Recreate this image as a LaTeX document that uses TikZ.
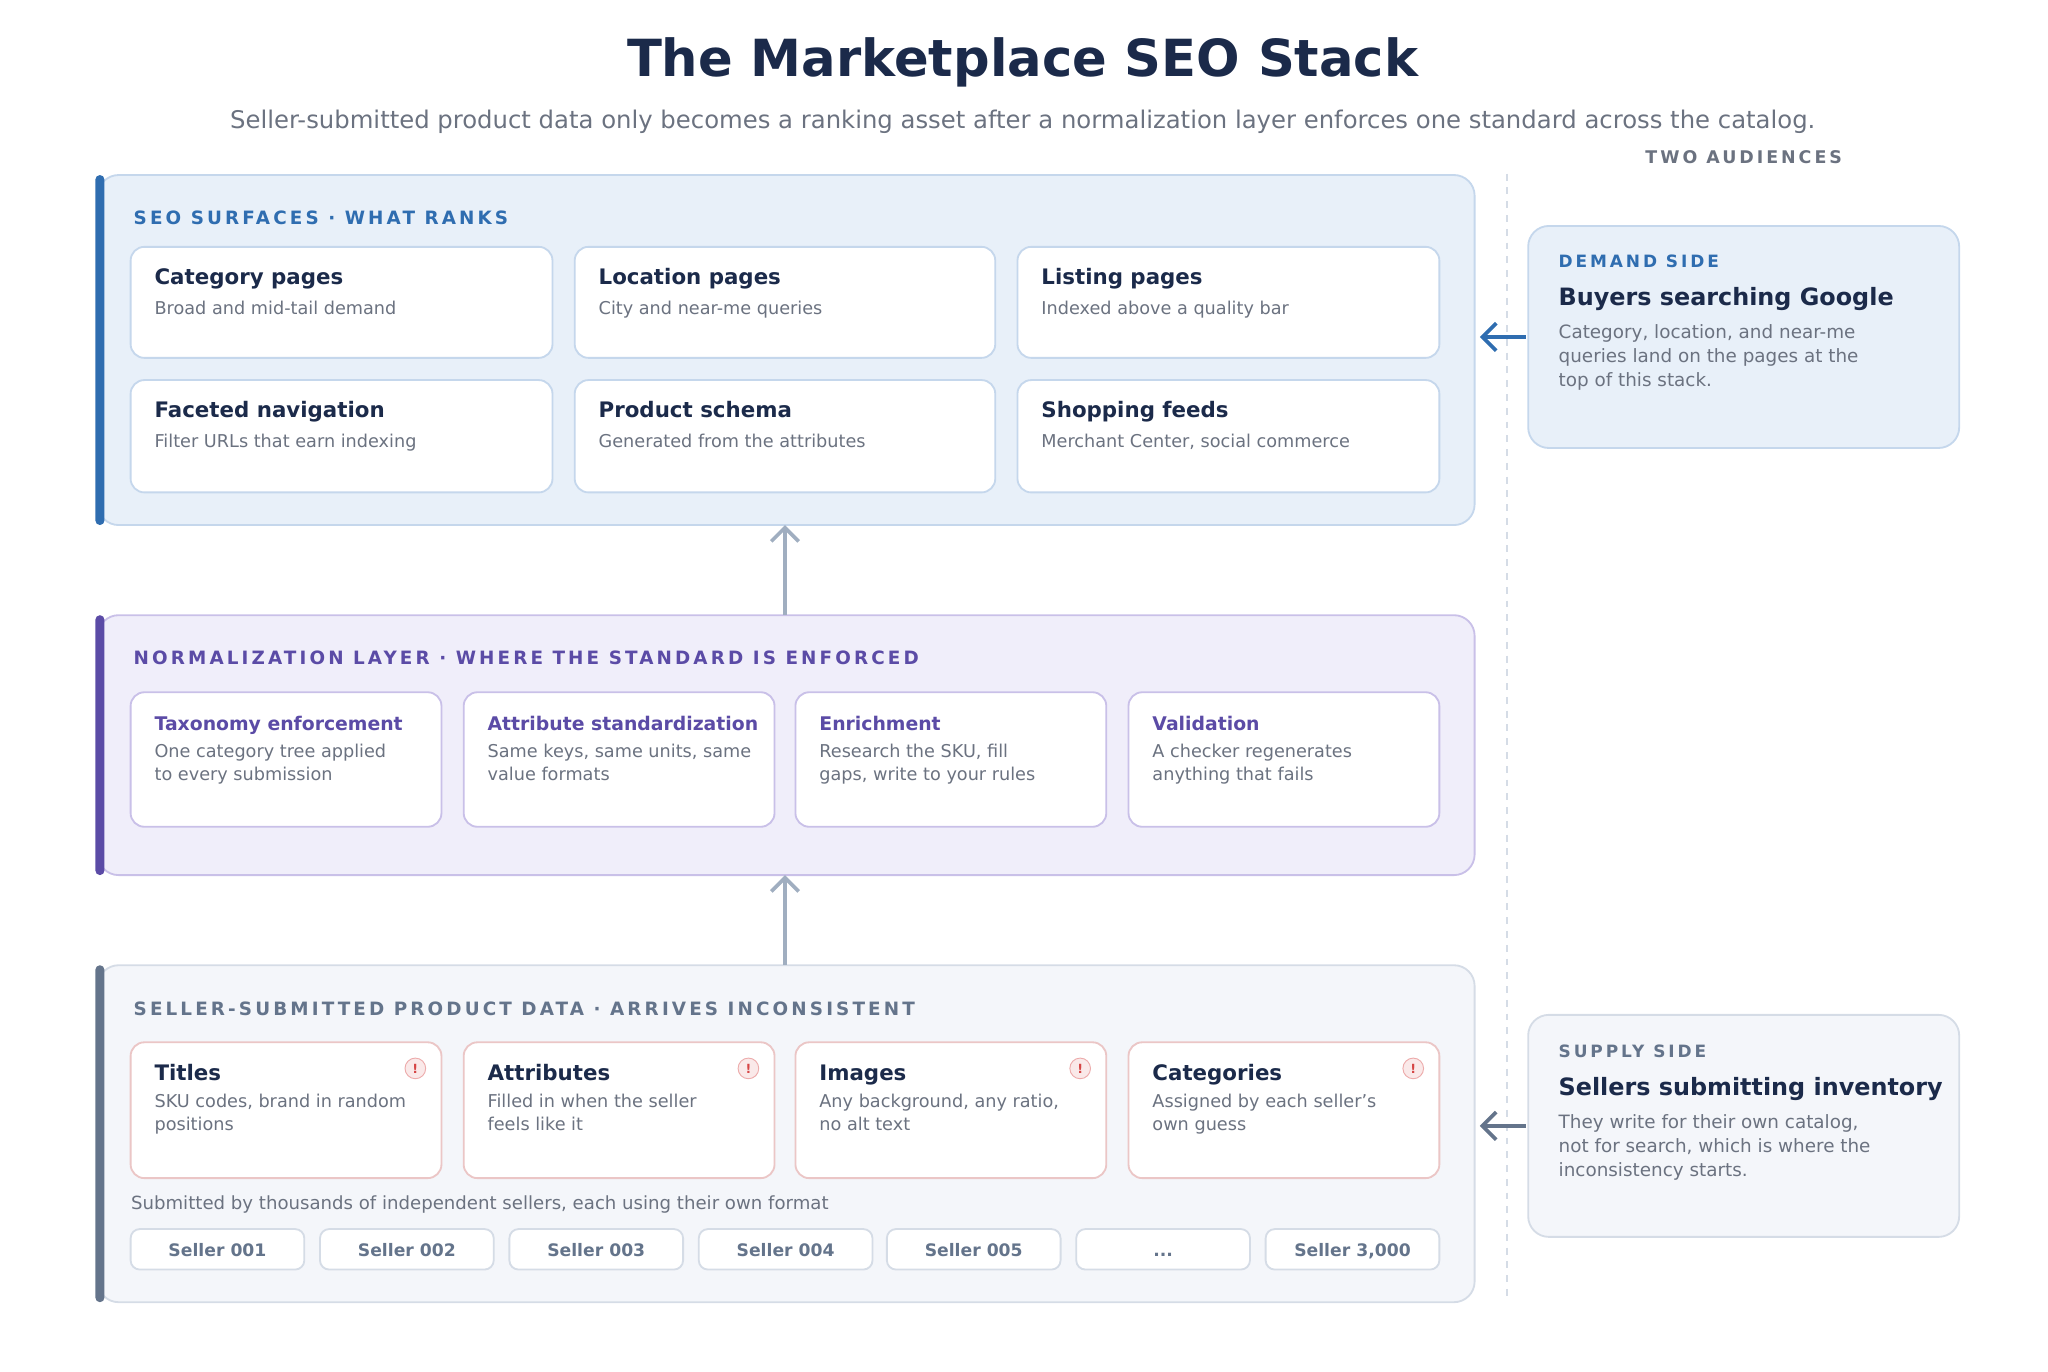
\documentclass[tikz,border=0pt]{standalone}
\usepackage{fontspec}
\setmainfont{DejaVu Sans}
\usetikzlibrary{arrows.meta}
\definecolor{navy}{HTML}{1B2A4A}
\definecolor{txtgray}{HTML}{6B7280}
\definecolor{seoblue}{HTML}{2F6DB0}
\definecolor{seofill}{HTML}{E8F0F9}
\definecolor{seoline}{HTML}{C5D7EC}
\definecolor{normpurple}{HTML}{5B4BA6}
\definecolor{normfill}{HTML}{F0EEFA}
\definecolor{normline}{HTML}{C9C0E8}
\definecolor{dataslate}{HTML}{64748B}
\definecolor{datafill}{HTML}{F4F6FA}
\definecolor{dataline}{HTML}{D5DCE6}
\definecolor{warnline}{HTML}{EBC6C6}
\definecolor{warnred}{HTML}{D64545}
\definecolor{arrowgray}{HTML}{A0AEC0}
\newcommand\fsz[1]{\fontsize{#1}{#1}\selectfont}
\newcommand\spaced{\addfontfeature{LetterSpace=17}}
\newcommand\sellerdots{...}
\tikzset{
  panel/.style={rounded corners=9pt, line width=0.8pt},
  card/.style={rounded corners=6pt, line width=0.8pt, fill=white},
  lbl/.style={anchor=west, inner sep=0pt, font=\fsz{8}\bfseries\spaced},
  ctitle/.style={anchor=base west, inner sep=0pt, text=navy, font=\fsz{9.3}\bfseries},
  cdesc/.style={anchor=north west, inner sep=0pt, text=txtgray, align=left, font=\fsz{7.7}\linespread{1.3}\selectfont},
  uparrow/.style={arrowgray, line width=1.6pt, -{Straight Barb[length=6pt,width=12pt]}},
  warn/.style={circle, minimum size=9pt, inner sep=0pt, fill=warnred!12, draw=warnred!45, text=warnred, font=\fsz{5.5}\bfseries},
  seller/.style={rounded corners=4pt, draw=dataline, fill=white, line width=0.8pt},
}
\begin{document}
\begin{tikzpicture}[x=0.02cm, y=-0.02cm]
  \useasboundingbox (0,0) rectangle (1568,1050);
  % title
  \node[text=navy, font=\fsz{22.3}\bfseries] (title) at (783,48) {The Marketplace SEO Stack};
  \node[text=txtgray, font=\fsz{10.6}] (subtitle) at (783,93) {Seller-submitted product data only becomes a ranking asset after a normalization layer enforces one standard across the catalog.};
  \node[text=txtgray, font=\fsz{7.6}\bfseries\spaced] (audiences) at (1335,120) {TWO AUDIENCES};
  \draw[dataline, dashed, line width=0.8pt] (1154,133) -- (1154,997);

  % SEO surfaces
  \draw[panel, fill=seofill, draw=seoline] (75,134) rectangle (1129,402);
  \fill[seoblue, rounded corners=2pt] (73,134) rectangle (80,402);
  \node[lbl, text=seoblue] at (102,167) {SEO SURFACES · WHAT RANKS};
  \foreach \xa/\xb/\ya/\yb/\ttl/\dsc [count=\i] in {
      100/423/189/274/Category pages/Broad and mid-tail demand,
      440/762/189/274/Location pages/City and near-me queries,
      779/1102/189/274/Listing pages/Indexed above a quality bar,
      100/423/291/377/Faceted navigation/Filter URLs that earn indexing,
      440/762/291/377/Product schema/Generated from the attributes,
      779/1102/291/377/Shopping feeds/{Merchant Center, social commerce}} {
    \draw[card, draw=seoline] (\xa,\ya) rectangle (\xb,\yb);
    \node[ctitle] (seo\i) at (\xa+18,\ya+29) {\ttl};
    \node[cdesc] at (\xa+18,\ya+41) {\dsc};
  }
  \coordinate (seobottom) at (601,402);

  % normalization
  \draw[panel, fill=normfill, draw=normline] (75,471) rectangle (1129,670);
  \fill[normpurple, rounded corners=2pt] (73,471) rectangle (80,670);
  \node[lbl, text=normpurple] at (102,504) {NORMALIZATION LAYER · WHERE THE STANDARD IS ENFORCED};
  \foreach \xa/\ttl/\dsc [count=\i] in {
      100/Taxonomy enforcement/{One category tree applied\\to every submission},
      355/Attribute standardization/{Same keys, same units, same\\value formats},
      609/Enrichment/{Research the SKU, fill\\gaps, write to your rules},
      864/Validation/{A checker regenerates\\anything that fails}} {
    \draw[card, draw=normline] (\xa,530) rectangle (\xa+238,633);
    \node[ctitle, text=normpurple, font=\fsz{8.2}\bfseries] (norm\i) at (\xa+18,559) {\ttl};
    \node[cdesc] at (\xa+18,569) {\dsc};
  }
  \coordinate (normtop) at (601,471);
  \coordinate (normbottom) at (601,670);

  % seller data
  \draw[panel, fill=datafill, draw=dataline] (75,739) rectangle (1129,997);
  \fill[dataslate, rounded corners=2pt] (73,739) rectangle (80,997);
  \node[lbl, text=dataslate] at (102,772) {SELLER-SUBMITTED PRODUCT DATA · ARRIVES INCONSISTENT};
  \foreach \xa/\ttl/\dsc [count=\i] in {
      100/Titles/{SKU codes, brand in random\\positions},
      355/Attributes/{Filled in when the seller\\feels like it},
      609/Images/{Any background, any ratio,\\no alt text},
      864/Categories/{Assigned by each seller's\\own guess}} {
    \draw[card, draw=warnline] (\xa,798) rectangle (\xa+238,902);
    \node[ctitle] (data\i) at (\xa+18,827) {\ttl};
    \node[cdesc] at (\xa+18,837) {\dsc};
    \node[warn] at (\xa+218,818) {!};
  }
  \coordinate (datatop) at (601,739);
  \node[anchor=west, inner sep=0pt, text=txtgray, font=\fsz{7.9}] (thousands) at (100,922) {Submitted by thousands of independent sellers, each using their own format};
  \foreach \xa/\nm [count=\i] in {100/Seller 001, 245/Seller 002, 390/Seller 003, 535/Seller 004, 679/Seller 005, 824/\sellerdots, 969/{Seller 3,000}} {
    \draw[seller] (\xa,941) rectangle (\xa+133,972);
    \node[anchor=base, text=dataslate, font=\fsz{7.5}\bfseries] (s\i) at (\xa+66.5,962) {\nm};
  }

  % audiences
  \draw[panel, fill=seofill, draw=seoline] (1170,173) rectangle (1500,343);
  \node[lbl, text=seoblue, font=\fsz{7.4}\bfseries\spaced] at (1193,200) {DEMAND SIDE};
  \node[ctitle, font=\fsz{10.4}\bfseries] (demand) at (1193,234) {Buyers searching Google};
  \node[cdesc, font=\fsz{8}\linespread{1.3}\selectfont] at (1193,248) {Category, location, and near-me\\queries land on the pages at the\\top of this stack.};
  \coordinate (demandin) at (1168,258);
  \coordinate (seoright) at (1133,258);

  \draw[panel, fill=datafill, draw=dataline] (1170,777) rectangle (1500,947);
  \node[lbl, text=dataslate, font=\fsz{7.4}\bfseries\spaced] at (1193,805) {SUPPLY SIDE};
  \node[ctitle, font=\fsz{10.4}\bfseries] (supply) at (1193,839) {Sellers submitting inventory};
  \node[cdesc, font=\fsz{8}\linespread{1.3}\selectfont] at (1193,853) {They write for their own catalog,\\not for search, which is where the\\inconsistency starts.};
  \coordinate (supplyin) at (1168,862);
  \coordinate (dataright) at (1133,862);

  % connectors
  \draw[uparrow] (normtop) -- (seobottom);
  \draw[uparrow] (datatop) -- (normbottom);
  \draw[uparrow, seoblue] (demandin) -- (seoright);
  \draw[uparrow, dataslate] (supplyin) -- (dataright);
\end{tikzpicture}
\end{document}
